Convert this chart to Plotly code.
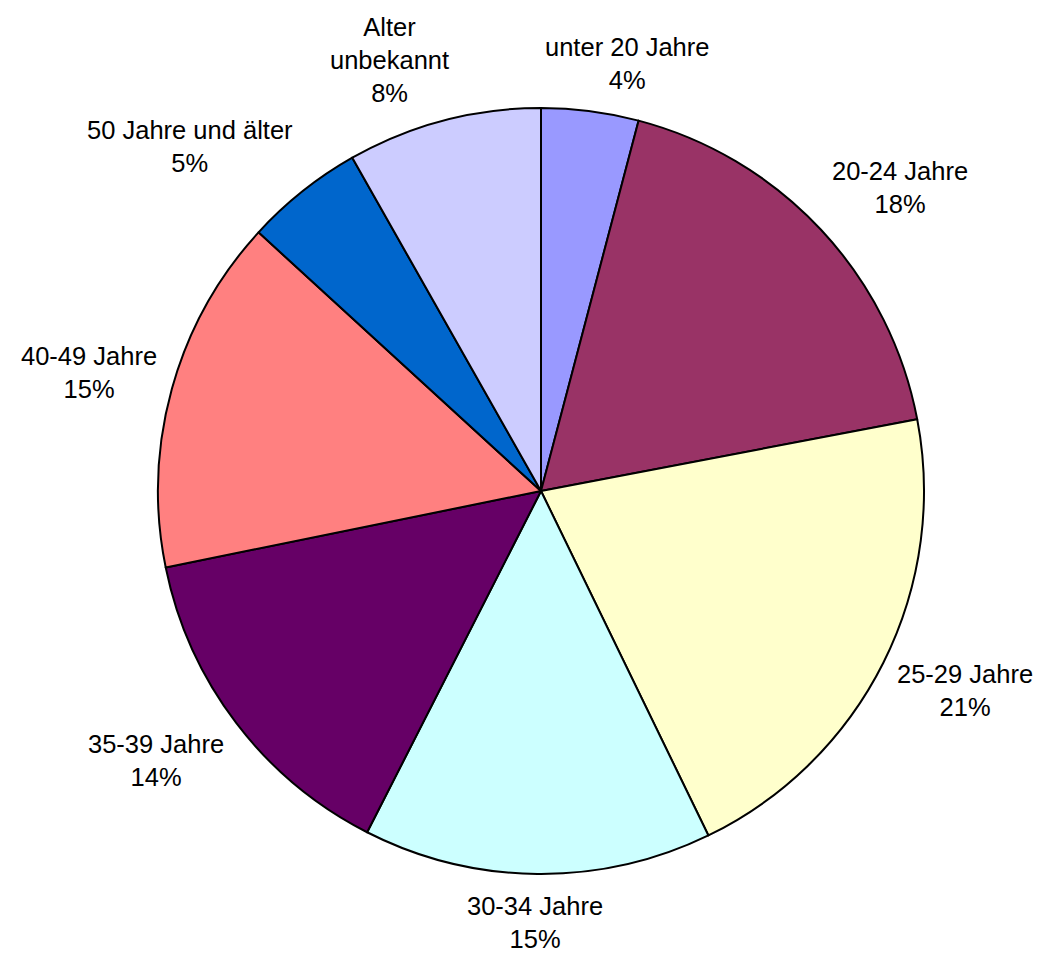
import math
import plotly.graph_objects as go

categories = ["unter 20 Jahre", "20-24 Jahre", "25-29 Jahre", "30-34 Jahre",
              "35-39 Jahre", "40-49 Jahre", "50 Jahre und älter", "Alter unbekannt"]
display_labels = ["unter 20 Jahre", "20-24 Jahre", "25-29 Jahre", "30-34 Jahre",
                  "35-39 Jahre", "40-49 Jahre", "50 Jahre und älter", "Alter<br>unbekannt"]
values = [4.1, 17.9, 20.8, 14.7, 14.3, 15.0, 5.0, 8.2]
colors = ["#9999FF", "#993366", "#FFFFCC", "#CCFFFF", "#660066", "#FF8080", "#0066CC", "#CCCCFF"]

W, H = 1050, 958
OFF = 8  # default page body margin
cx, cy, r = 541 - OFF, 491 - OFF, 383
FS = 25.5
FONT = "Liberation Sans, Arial, sans-serif"

# Arial / Liberation Sans advance widths (per 1000 em)
CW = {" ": 278, "-": 333, "%": 889, "J": 500, "A": 667, "a": 556, "b": 556, "d": 556,
      "e": 556, "h": 556, "k": 500, "l": 222, "n": 556, "r": 333, "t": 278, "u": 556, "ä": 556}
for d in "0123456789":
    CW[d] = 556


def text_width(s):
    return sum(CW.get(c, 556) for c in s) / 1000 * FS


fig = go.Figure(go.Pie(
    labels=categories,
    values=values,
    sort=False,
    direction="clockwise",
    rotation=0,
    marker=dict(colors=colors, line=dict(color="black", width=2)),
    textinfo="none",
    hoverinfo="label+percent",
    showlegend=False,
    domain=dict(x=[(cx - r) / W, (cx + r) / W],
                y=[(H - cy - r) / H, (H - cy + r) / H]),
))

total = sum(values)
cum = 0.0
R = r + 15
for lab, v in zip(display_labels, values):
    pct = round(v / total * 100)
    theta = (cum + v / 2) / total * 2 * math.pi
    cum += v
    dx, dy = math.sin(theta), -math.cos(theta)
    lines = lab.split("<br>") + [f"{pct}%"]
    w = max(text_width(s) for s in lines)
    h = len(lines) * 1.3 * FS
    px = cx + R * dx + 0.5 * w * max(-1, min(1, dx / 0.3))
    py = cy + R * dy + 0.5 * h * max(-1, min(1, dy / 0.7))
    # keep the label box inside the figure
    px = min(max(px, w / 2 + 2), W - w / 2 - 2)
    py = min(max(py, h / 2 + 2), H - h / 2 - 2)
    fig.add_annotation(
        x=px / W, y=1 - py / H, xref="paper", yref="paper",
        text="<br>".join(lines), showarrow=False,
        xanchor="center", yanchor="middle", align="center",
        font=dict(family=FONT, size=FS, color="black"),
    )

fig.update_layout(
    width=W, height=H,
    margin=dict(l=0, r=0, t=0, b=0),
    paper_bgcolor="white",
    plot_bgcolor="white",
)
fig.write_html("out.html")
